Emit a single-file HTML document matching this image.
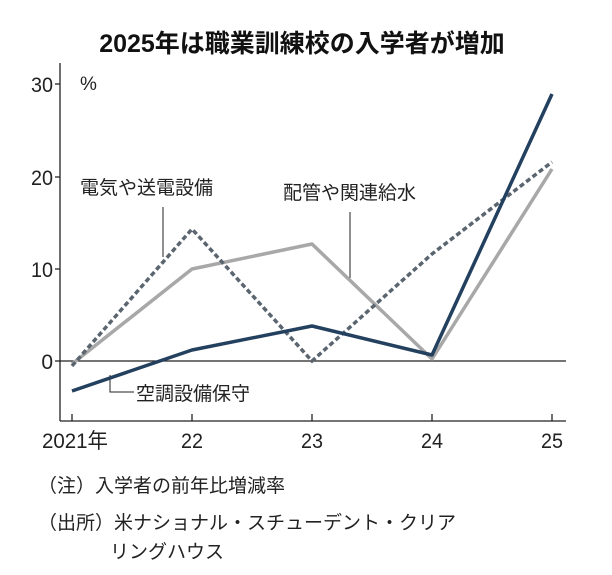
<!DOCTYPE html>
<html><head><meta charset="utf-8"><style>
body{margin:0;background:#fff;width:612px;height:570px;overflow:hidden;font-family:"Liberation Sans","Noto Sans CJK JP",sans-serif;}
</style></head><body>
<svg width="612" height="570" xmlns="http://www.w3.org/2000/svg" font-family="Liberation Sans, Noto Sans CJK JP, sans-serif">
<text x="302" y="52" text-anchor="middle" font-size="25" font-weight="bold" fill="#111">2025年は職業訓練校の入学者が増加</text>
<g stroke="#222" stroke-width="1.3" fill="none">
<line x1="60" y1="63" x2="60" y2="421"/>
<line x1="60" y1="421" x2="566" y2="421"/>
<line x1="60" y1="361" x2="566" y2="361"/>
<line x1="55" y1="84" x2="60" y2="84"/><line x1="55" y1="177" x2="60" y2="177"/><line x1="55" y1="269" x2="60" y2="269"/><line x1="55" y1="361" x2="60" y2="361"/>
<line x1="72" y1="414" x2="72" y2="421"/><line x1="192" y1="414" x2="192" y2="421"/><line x1="312" y1="414" x2="312" y2="421"/><line x1="432" y1="414" x2="432" y2="421"/><line x1="552" y1="414" x2="552" y2="421"/>
<line x1="163" y1="207" x2="163" y2="257" stroke-width="1"/>
<line x1="350" y1="212" x2="350" y2="278" stroke-width="1"/>
<polyline points="110,375 110,392 134,392" stroke-width="1"/>
</g>
<g font-size="21" fill="#222" text-anchor="end">
<text x="53" y="92" textLength="22" lengthAdjust="spacingAndGlyphs">30</text><text x="53" y="185" textLength="22" lengthAdjust="spacingAndGlyphs">20</text><text x="53" y="277" textLength="22" lengthAdjust="spacingAndGlyphs">10</text><text x="53" y="369">0</text>
</g>
<text x="80" y="90" font-size="19" fill="#222">%</text>
<g font-size="21" fill="#222">
<text x="42" y="448" textLength="66" lengthAdjust="spacingAndGlyphs">2021年</text><text x="181" y="448" textLength="22" lengthAdjust="spacingAndGlyphs">22</text><text x="301" y="448" textLength="22" lengthAdjust="spacingAndGlyphs">23</text><text x="421" y="448" textLength="22" lengthAdjust="spacingAndGlyphs">24</text><text x="541" y="448" textLength="22" lengthAdjust="spacingAndGlyphs">25</text>
</g>
<polyline points="72,364 192,269 312,244 432,359 552,169" fill="none" stroke="#a8a8a8" stroke-width="3.5" stroke-linejoin="round"/>
<polyline points="72,366 192,229 312,361 432,254 552,162" fill="none" stroke="#5a6570" stroke-width="3.5" stroke-dasharray="5,3"/>
<polyline points="72,391 192,350 312,326 432,355 552,94" fill="none" stroke="#23405f" stroke-width="3.5" stroke-linejoin="round"/>
<g font-size="19" fill="#222">
<text x="80" y="194">電気や送電設備</text>
<text x="283" y="199">配管や関連給水</text>
<text x="136" y="400">空調設備保守</text>
</g>
<g font-size="19" fill="#222">
<text x="38" y="492">（注）入学者の前年比増減率</text>
<text x="38" y="529">（出所）米ナショナル・スチューデント・クリア</text>
<text x="110" y="558">リングハウス</text>
</g>
</svg>
</body></html>
